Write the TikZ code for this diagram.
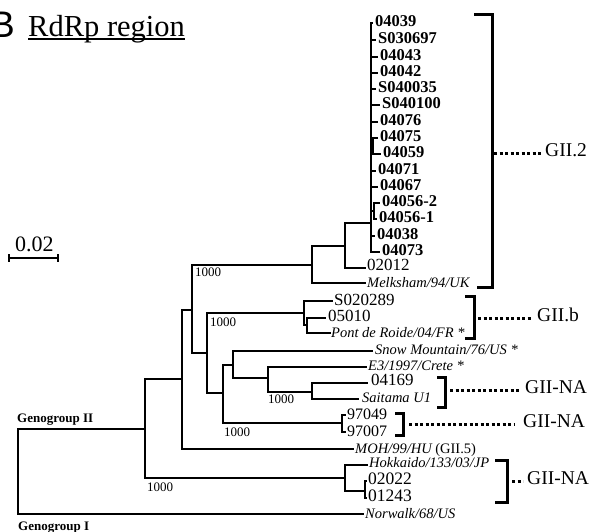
\documentclass[tikz,border=0pt]{standalone}
\usepackage{fontspec}
\setmainfont{Liberation Serif}
\newfontfamily\sansB{Liberation Sans}
\begin{document}
\begin{tikzpicture}[x=1pt,y=-1pt,
  br/.style={line width=1.4pt, line cap=rect},
  lbl/.style={anchor=west, inner sep=0pt, text height=0.68em, text depth=0pt},
  boldl/.style={lbl, font=\fontsize{16.5}{16.5}\selectfont\bfseries},
  reg/.style={lbl, font=\fontsize{17}{17}\selectfont},
  ita/.style={lbl, font=\fontsize{14.5}{14.5}\selectfont\itshape},
  boot/.style={lbl, font=\fontsize{13}{13}\selectfont},
  grp/.style={lbl, font=\fontsize{19.5}{19.5}\selectfont},
  geno/.style={anchor=base west, inner sep=0pt, font=\fontsize{13}{13}\selectfont\bfseries},
  brk/.style={line width=3pt},
  dotl/.style={line width=3pt, dash pattern=on 3pt off 2.5pt},
]
\useasboundingbox (0,0) rectangle (589,531);
\clip (0,0) rectangle (589,531);
\fill[white] (0,0) rectangle (589,531);

% title
\node[anchor=base east, inner sep=0pt, font=\sansB\fontsize{37}{37}\selectfont] (Bl) at (15,37) {B};
\node[anchor=base west, inner sep=0pt, font=\fontsize{30.5}{30.5}\selectfont] (title) at (28,36) {RdRp region};
\draw[line width=1.2pt] ([yshift=-3pt]title.base west) -- ([yshift=-3pt]title.base east);

% scale bar
\node[anchor=base west, inner sep=0pt, font=\fontsize{22}{22}\selectfont] (sc) at (15,251) {0.02};
\coordinate (sa) at (9,258);
\coordinate (sb) at (58,258);
\draw[line width=1.2pt] (sa) -- (sb) ([yshift=4pt]sa) -- ([yshift=-4pt]sa) ([yshift=4pt]sb) -- ([yshift=-4pt]sb);

% internal nodes
\coordinate (R)   at (18,471.5);
\coordinate (GII) at (145,429);
\coordinate (N1)  at (182,379);
\coordinate (A)   at (192,310);
\coordinate (T)   at (312,265);
\coordinate (C)   at (345,246);
\coordinate (K)   at (371,223);
\coordinate (B)   at (207,353);
\coordinate (Gb)  at (304,313);
\coordinate (Gb2) at (307,325);
\coordinate (D)   at (223,393);
\coordinate (X3)  at (233,365);
\coordinate (X4)  at (268,378);
\coordinate (X5)  at (312,392);
\coordinate (N97) at (342,423);
\coordinate (H)   at (345,478);
\coordinate (H2)  at (365,491);
\coordinate (S1)  at (373,146);
\coordinate (S2)  at (374,211);

% leaf tips
\coordinate (tNor) at (363,514);
\coordinate (tMOH) at (353,449);
\coordinate (tMel) at (365,283);
\coordinate (t02012) at (365,268);
\coordinate (tS020) at (332,301);
\coordinate (t05010) at (325,318);
\coordinate (tPont) at (330,333);
\coordinate (tSnow) at (372,351);
\coordinate (tE3) at (366,367);
\coordinate (t04169) at (367,383);
\coordinate (tSai) at (358,399);
\coordinate (t97049) at (345,415);
\coordinate (t97007) at (345,432);
\coordinate (tHok) at (367,465);
\coordinate (t02022) at (366,481);
\coordinate (t01243) at (366,498);

% branches
\draw[br] (R) |- (GII);
\draw[br] (R) |- (tNor);
\draw[br] (GII) |- (N1);
\draw[br] (GII) |- (H);
\draw[br] (N1) |- (A);
\draw[br] (N1) |- (tMOH);
\draw[br] (A) |- (T);
\draw[br] (A) |- (B);
\draw[br] (T) |- (C);
\draw[br] (T) |- (tMel);
\draw[br] (C) |- (K);
\draw[br] (C) |- (t02012);
\draw[br] (B) |- (Gb);
\draw[br] (B) |- (D);
\draw[br] (Gb) |- (tS020);
\draw[br] (Gb) |- (Gb2);
\draw[br] (Gb2) |- (t05010);
\draw[br] (Gb2) |- (tPont);
\draw[br] (D) |- (X3);
\draw[br] (D) |- (N97);
\draw[br] (X3) |- (tSnow);
\draw[br] (X3) |- (X4);
\draw[br] (X4) |- (tE3);
\draw[br] (X4) |- (X5);
\draw[br] (X5) |- (t04169);
\draw[br] (X5) |- (tSai);
\draw[br] (N97) |- (t97049);
\draw[br] (N97) |- (t97007);
\draw[br] (H) |- (tHok);
\draw[br] (H) |- (H2);
\draw[br] (H2) |- (t02022);
\draw[br] (H2) |- (t01243);

% GII.2 cluster leaves
\foreach \t/\lx/\ly [count=\i] in {04039/375/23, S030697/378/40, 04043/380/57, 04042/380/73, S040035/378/89, S040100/382/105, 04076/380/122, 04071/378/171, 04067/380/187, 04038/377/236, 04073/382/252}{
  \coordinate (kt\i) at (\lx-2.5,\ly);
  \node[boldl] (kl\i) at (\lx,\ly) {\t};
  \draw[br] (K) |- (kt\i);
}
\draw[br] (K) |- (S1);
\draw[br] (K) |- (S2);
\foreach \t/\lx/\ly [count=\i] in {04075/380/138, 04059/383/154}{
  \coordinate (st\i) at (\lx-2.5,\ly);
  \node[boldl] (sl\i) at (\lx,\ly) {\t};
  \draw[br] (S1) |- (st\i);
}
\foreach \t/\lx/\ly [count=\i] in {04056-2/382/203, 04056-1/379/219}{
  \coordinate (su\i) at (\lx-2.5,\ly);
  \node[boldl] (ul\i) at (\lx,\ly) {\t};
  \draw[br] (S2) |- (su\i);
}

% leaf labels
\node[reg] (l02012) at (367,267) {02012};
\node[ita] (lMel) at (367,284) {Melksham/94/UK};
\node[reg] (lS020) at (334,302) {S020289};
\node[reg] (l05010) at (328,318) {05010};
\node[ita] (lPont) at (331,334) {Pont de Roide/04/FR *};
\node[ita] (lSnow) at (375,351) {Snow Mountain/76/US *};
\node[ita] (lE3) at (368,367) {E3/1997/Crete *};
\node[reg] (l04169) at (371,382) {04169};
\node[ita] (lSai) at (362,399) {Saitama U1};
\node[lbl, font=\fontsize{16}{16}\selectfont] (l97049) at (347,416) {97049};
\node[lbl, font=\fontsize{16}{16}\selectfont] (l97007) at (347,433) {97007};
\node[ita] (lMOH) at (355,450) {MOH/99/HU \upshape(GII.5)};
\node[ita] (lHok) at (369,464) {Hokkaido/133/03/JP};
\node[lbl, font=\fontsize{17.5}{17.5}\selectfont] (l02022) at (368,481.5) {02022};
\node[lbl, font=\fontsize{17.5}{17.5}\selectfont] (l01243) at (368,498.5) {01243};
\node[ita] (lNor) at (365,515.5) {Norwalk/68/US};

% bootstrap values
\node[boot] (b1) at (195,273) {1000};
\node[boot] (b2) at (210,323) {1000};
\node[boot] (b3) at (268,400) {1000};
\node[boot] (b4) at (224,433) {1000};
\node[boot] (b5) at (147,488) {1000};

% genogroup labels
\node[geno] (g2) at (17,422) {Genogroup II};
\node[geno] (g1) at (18,530) {Genogroup I};

% brackets and group labels
\draw[brk] (474,14) -- (492,14) -- (492,287) -- (477,287);
\node[grp] (gGII2) at (545,153) {GII.2};
\coordinate (dGII2) at (494,153);
\draw[dotl] (dGII2) -- ([xshift=-4pt]gGII2.west);

\draw[brk] (465,296) -- (474,296) -- (474,338) -- (465,338);
\node[grp] (gGIIb) at (537,318) {GII.b};
\coordinate (dGIIb) at (478,318);
\draw[dotl] (dGIIb) -- ([xshift=-5pt]gGIIb.west);

\draw[brk] (437,377) -- (445,377) -- (445,407) -- (437,407);
\node[grp] (gNA1) at (525,390) {GII-NA};
\coordinate (dNA1) at (450,390);
\draw[dotl] (dNA1) -- ([xshift=-4pt]gNA1.west);

\draw[brk] (395,413) -- (403,413) -- (403,435) -- (395,435);
\node[grp] (gNA2) at (523,424) {GII-NA};
\coordinate (dNA2) at (409,424);
\draw[dotl] (dNA2) -- ([xshift=-8pt]gNA2.west);

\draw[brk] (495,460) -- (507,460) -- (507,502) -- (495,502);
\node[grp] (gNA3) at (527,481) {GII-NA};
\coordinate (dNA3) at (512,481);
\draw[dotl] (dNA3) -- ([xshift=-4pt]gNA3.west);
\end{tikzpicture}
\end{document}
